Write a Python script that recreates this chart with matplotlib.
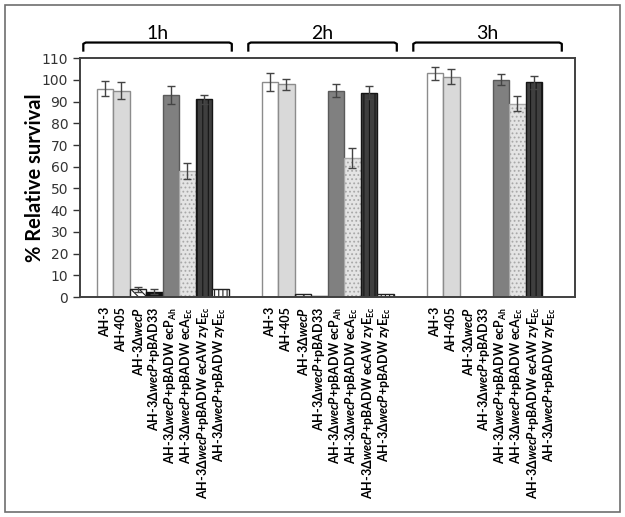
import matplotlib.pyplot as plt
from matplotlib.patches import Rectangle
import numpy as np

plt.rcParams['hatch.linewidth'] = 0.8
plt.rcParams['mathtext.fontset'] = 'custom'
plt.rcParams['mathtext.rm'] = 'Lato:bold'
plt.rcParams['mathtext.it'] = 'Lato:italic:bold'

groups = ["1h", "2h", "3h"]
strains = ["AH-3", "AH-405", r"AH-3Δ$\it{wecP}$", r"AH-3Δ$\it{wecP}$+pBAD33",
           r"AH-3Δ$\it{wecP}$+pBADW ecP$_{\rm Ah}$",
           r"AH-3Δ$\it{wecP}$+pBADW ecA$_{\rm Ec}$",
           r"AH-3Δ$\it{wecP}$+pBADW ecAW zyE$_{\rm Ec}$",
           r"AH-3Δ$\it{wecP}$+pBADW zyE$_{\rm Ec}$"]

# survival per group (1h, 2h, 3h), one value per strain
survival = [
    [96, 95, 3.5, 2.5, 93, 58, 91, 3.5],
    [99, 98, 1.5, 0.5, 95, 64, 94, 1.5],
    [103, 101.5, 0, 0, 100, 89, 99, 0],
]
errors = [
    [3.5, 4, 1, 1, 4, 3.5, 2, 0],
    [4, 2.5, 0, 0, 3, 4.5, 3, 0],
    [3, 3.5, 0, 0, 2.5, 3.5, 3, 0],
]

# bar styles: face, edge/hatch colour, hatch
styles = [
    ("white", "#8c8c8c", None),
    ("#d9d9d9", "#8c8c8c", None),
    ("white", "#222222", "\\\\\\\\"),
    ("#111111", "#111111", None),
    ("#808080", "#5a5a5a", None),
    ("#e4e4e4", "#a8a8a8", "...."),
    ("#3f3f3f", "#151515", "|||"),
    ("white", "#222222", "||||"),
]

fig = plt.figure(figsize=(6.25, 5.17), dpi=100)
fig.patches.append(Rectangle((0.008, 0.01), 0.984, 0.98, transform=fig.transFigure,
                             fill=False, edgecolor="#6e6e6e", linewidth=1.2))
ax = fig.add_axes([0.128, 0.4255, 0.792, 0.462])

xticks = []
xlabels = []
for g in range(len(groups)):
    for i in range(len(strains)):
        x = 10 * g + i + 0.5
        face, edge, hatch = styles[i]
        val = survival[g][i]
        if val > 0:
            ax.bar(x, val, width=1.0, color=face, edgecolor=edge, hatch=hatch,
                   linewidth=1.0)
        if errors[g][i] > 0:
            ax.errorbar(x, val, yerr=errors[g][i], fmt="none", ecolor="#444444",
                        elinewidth=1, capsize=3, capthick=1)
        xticks.append(x)
        xlabels.append(strains[i])

    # bracket + group label above the axes
    x0, x1 = 10 * g - 0.8, 10 * g + 8.2
    ax.plot([x0, x0, x0 + 0.15, x1 - 0.15, x1, x1],
            [113, 116.6, 117.2, 117.2, 116.6, 113],
            color="black", linewidth=1.6, clip_on=False, solid_capstyle="butt")
    ax.text((x0 + x1) / 2, 117.6, groups[g], ha="center", va="bottom",
            fontsize=14, family="Lato")

ax.set_xlim(-1, 29)
ax.set_ylim(0, 110)
ax.set_yticks(np.arange(0, 111, 10))
ax.tick_params(axis="y", labelsize=10, colors="#333333", length=5, width=1)
ax.set_xticks(xticks)
ax.set_xticklabels(xlabels, rotation=90, fontsize=9, fontweight="bold",
                   family="Lato")
ax.tick_params(axis="x", length=0, pad=7)
for s in ax.spines.values():
    s.set_color("#404040")
    s.set_linewidth(1.4)

ax.set_ylabel("% Relative survival", fontsize=14.5, fontweight="bold",
              family="Lato")
ax.yaxis.set_label_coords(-0.07, 0.5)

fig.savefig("out.png", dpi=100)
